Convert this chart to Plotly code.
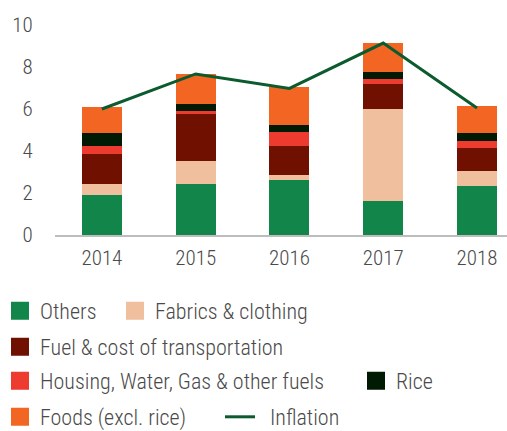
import plotly.graph_objects as go

years = ["2014", "2015", "2016", "2017", "2018"]
others = [1.90, 2.43, 2.62, 1.62, 2.33]
fabrics = [0.52, 1.09, 0.24, 4.38, 0.72]
fuel = [1.43, 2.24, 1.38, 1.19, 1.09]
housing = [0.38, 0.14, 0.66, 0.24, 0.34]
rice = [0.62, 0.34, 0.34, 0.33, 0.38]
foods = [1.24, 1.43, 1.81, 1.38, 1.28]
inflation = [6.00, 7.67, 6.98, 9.14, 6.05]
y_ticks = [0, 2, 4, 6, 8, 10]

series = [
    ("Others", others, "#12864A"),
    ("Fabrics & clothing", fabrics, "#F0BF9E"),
    ("Fuel & cost of transportation", fuel, "#701000"),
    ("Housing, Water, Gas & other fuels", housing, "#EE3B2F"),
    ("Rice", rice, "#001A04"),
    ("Foods (excl. rice)", foods, "#F26522"),
]
line_color = "#0B5B2E"
font_family = "Roboto Condensed, Roboto, sans-serif"
text_color = "#4A4A4A"

W, H = 507, 431
# legend item placement (pixel left of item, pixel row centre)
legend_pos = [(0, 311), (115, 311), (0, 347), (0, 381), (356, 381), (0, 417), (220, 417)]

fig = go.Figure()
for name, vals, col in series:
    fig.add_trace(go.Bar(x=years, y=vals, name=name, marker=dict(color=col, line=dict(width=0)),
                         width=0.426, showlegend=False))
fig.add_trace(go.Scatter(x=years, y=inflation, mode="lines", name="Inflation",
                         line=dict(color=line_color, width=3), showlegend=False))

legend_layouts = {}
for i, (name, vals, col) in enumerate(series):
    lg = "legend" if i == 0 else f"legend{i + 1}"
    fig.add_trace(go.Scatter(x=[None], y=[None], mode="markers", name=name, legend=lg,
                             marker=dict(symbol="square", size=16, color=col,
                                         line=dict(color=col, width=2))))
lg_inf = f"legend{len(series) + 1}"
fig.add_trace(go.Scatter(x=[None], y=[None], mode="lines", name="\u00a0\u00a0Inflation", legend=lg_inf,
                         line=dict(color=line_color, width=3)))

legend_names = ["legend"] + [f"legend{i}" for i in range(2, len(series) + 2)]
for lg, (px, py) in zip(legend_names, legend_pos):
    legend_layouts[lg] = dict(orientation="h", x=px / W, xref="container", y=1 - py / H,
                              yref="container", xanchor="left", yanchor="middle",
                              font=dict(family=font_family, size=22, color=text_color, weight=300),
                              bgcolor="rgba(0,0,0,0)", borderwidth=0, itemclick=False)

fig.update_layout(
    width=W, height=H,
    barmode="stack",
    margin=dict(l=55, r=0, t=25, b=196),
    plot_bgcolor="white", paper_bgcolor="white",
    font=dict(family=font_family, size=21, color=text_color, weight=300),
    xaxis=dict(type="category", range=[-0.5, 4.32], showline=True, linecolor="#BDBDBD",
               linewidth=1.5, ticks="", showgrid=False, automargin=False, ticklabelstandoff=3),
    yaxis=dict(range=[0, 10], tickvals=y_ticks, showgrid=False, zeroline=False, automargin=False,
               ticks="outside", ticklen=17, tickcolor="rgba(0,0,0,0)"),
    **legend_layouts,
)
fig.write_html("out.html", post_script="document.body.style.margin='0px';",
               config={"displayModeBar": False})
